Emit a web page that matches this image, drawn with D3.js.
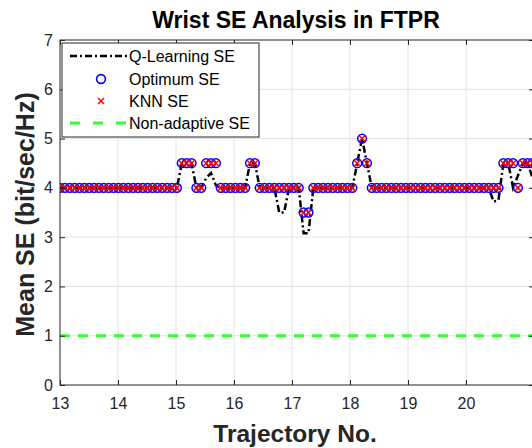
<!DOCTYPE html>
<html>
<head>
<meta charset="utf-8">
<script src="https://cdn.jsdelivr.net/npm/d3@7"></script>
<style>
  html, body { margin: 0; padding: 0; background: #fff; overflow: hidden; }
  svg { display: block; font-family: "Liberation Sans", Arial, sans-serif; }
</style>
</head>
<body>
<svg id="chart"></svg>
<script>
// trajectory axis: samples start at 13 with a fixed step
const trajStart = 13;
const trajStep = 0.084;

const xTicks = [13, 14, 15, 16, 17, 18, 19, 20];
const yTicks = [0, 1, 2, 3, 4, 5, 6, 7];

const qLearningSE = [
  4, 4, 4, 4, 4, 4, 4, 4, 4, 4, 4, 4, 4, 4, 4, 4, 4, 4, 4, 4, 4, 4, 4, 4, 4,
  4.5, 4.5, 4.5, 4, 4, 4.2, 4.3, 4.05,
  4, 4, 4, 4, 4, 4, 4.5, 4.5,
  4, 4, 4, 4, 3.5, 3.5, 4, 4, 4, 3.08, 3.08,
  4, 4, 4, 4, 4, 4, 4, 4, 4, 4.5, 5, 4.5,
  4, 4, 4, 4, 4, 4, 4, 4, 4, 4, 4, 4, 4, 4, 4, 4, 4, 4, 4, 4, 4, 4, 4, 4, 4,
  3.72, 3.75, 4.5, 4.5, 4.0, 4.25, 4.5, 4.5, 4.2
];

const optimumSE = [
  4, 4, 4, 4, 4, 4, 4, 4, 4, 4, 4, 4, 4, 4, 4, 4, 4, 4, 4, 4, 4, 4, 4, 4, 4,
  4.5, 4.5, 4.5, 4, 4, 4.5, 4.5, 4.5,
  4, 4, 4, 4, 4, 4, 4.5, 4.5,
  4, 4, 4, 4, 4, 4, 4, 4, 4, 3.5, 3.5,
  4, 4, 4, 4, 4, 4, 4, 4, 4, 4.5, 5, 4.5,
  4, 4, 4, 4, 4, 4, 4, 4, 4, 4, 4, 4, 4, 4, 4, 4, 4, 4, 4, 4, 4, 4, 4, 4, 4,
  4, 4, 4.5, 4.5, 4.5, 4, 4.5, 4.5, 4.5
];

const knnSE = [
  4, 4, 4, 4, 4, 4, 4, 4, 4, 4, 4, 4, 4, 4, 4, 4, 4, 4, 4, 4, 4, 4, 4, 4, 4,
  4.5, 4.5, 4.5, 4, 4, 4.5, 4.5, 4.5,
  4, 4, 4, 4, 4, 4, 4.5, 4.5,
  4, 4, 4, 4, 4, 4, 4, 4, 4, 3.5, 3.5,
  4, 4, 4, 4, 4, 4, 4, 4, 4, 4.5, 5, 4.5,
  4, 4, 4, 4, 4, 4, 4, 4, 4, 4, 4, 4, 4, 4, 4, 4, 4, 4, 4, 4, 4, 4, 4, 4, 4,
  4, 4, 4.5, 4.5, 4.5, 4, 4.5, 4.5, 4.5
];

const nonAdaptiveSE = 1;

const legendLabels = ["Q-Learning SE", "Optimum SE", "KNN SE", "Non-adaptive SE"];

function main() {
  const width = 532;
  const height = 448;
  const plot = { left: 60, right: 534, top: 40, bottom: 385 };

  const svg = d3.select("#chart")
    .attr("width", width)
    .attr("height", height)
    .attr("viewBox", [0, 0, width, height]);

  const x = d3.scaleLinear()
    .domain([13, 13 + (plot.right - plot.left) / 58])
    .range([plot.left, plot.right]);
  const y = d3.scaleLinear().domain([0, 7]).range([plot.bottom, plot.top]);

  const trajNo = qLearningSE.map((_, i) => trajStart + i * trajStep);

  renderGrid(svg, x, y, plot);
  renderSeries(svg, x, y, trajNo);
  renderAxes(svg, x, y, plot);
  renderLegend(svg);
  renderLabels(svg, plot);
}

function renderGrid(svg, x, y, plot) {
  const g = svg.append("g").attr("stroke", "#e3e3e3").attr("stroke-width", 1);
  g.selectAll("line.vx")
    .data(xTicks.slice(1))
    .join("line")
    .attr("x1", d => x(d)).attr("x2", d => x(d))
    .attr("y1", plot.top).attr("y2", plot.bottom);
  g.selectAll("line.hy")
    .data(yTicks.slice(1, -1))
    .join("line")
    .attr("x1", plot.left).attr("x2", plot.right)
    .attr("y1", d => y(d)).attr("y2", d => y(d));
}

function renderSeries(svg, x, y, trajNo) {
  svg.append("clipPath").attr("id", "plotclip")
    .append("rect")
    .attr("x", x.range()[0]).attr("y", y.range()[1])
    .attr("width", x.range()[1] - x.range()[0])
    .attr("height", y.range()[0] - y.range()[1]);

  const g = svg.append("g").attr("clip-path", "url(#plotclip)");

  const line = d3.line()
    .x((d, i) => x(trajNo[i]))
    .y(d => y(d));

  g.append("path")
    .datum(qLearningSE)
    .attr("fill", "none")
    .attr("stroke", "#000")
    .attr("stroke-width", 2.5)
    .attr("stroke-dasharray", "7,3,2,3")
    .attr("d", line);

  g.append("g")
    .selectAll("circle")
    .data(optimumSE)
    .join("circle")
    .attr("cx", (d, i) => x(trajNo[i]))
    .attr("cy", d => y(d))
    .attr("r", 4.4)
    .attr("fill", "none")
    .attr("stroke", "#0000ff")
    .attr("stroke-width", 1.5);

  g.append("g")
    .selectAll("path")
    .data(knnSE)
    .join("path")
    .attr("transform", (d, i) => `translate(${x(trajNo[i])},${y(d)})`)
    .attr("d", "M-3,-3L3,3M-3,3L3,-3")
    .attr("stroke", "#ff0000")
    .attr("stroke-width", 1.5);

  g.append("line")
    .attr("x1", x.range()[0]).attr("x2", x.range()[1])
    .attr("y1", y(nonAdaptiveSE)).attr("y2", y(nonAdaptiveSE))
    .attr("stroke", "#33ff33")
    .attr("stroke-width", 3)
    .attr("stroke-dasharray", "10,8");
}

function renderAxes(svg, x, y, plot) {
  const axisColor = "#262626";
  const g = svg.append("g");

  g.append("rect")
    .attr("x", plot.left).attr("y", plot.top)
    .attr("width", plot.right - plot.left)
    .attr("height", plot.bottom - plot.top)
    .attr("fill", "none")
    .attr("stroke", axisColor)
    .attr("stroke-width", 1);

  g.append("g")
    .attr("transform", `translate(0,${plot.bottom})`)
    .call(d3.axisBottom(x).tickValues(xTicks).tickSize(-5).tickPadding(13).tickFormat(d3.format("d")));
  g.append("g")
    .attr("transform", `translate(${plot.left},0)`)
    .call(d3.axisLeft(y).tickValues(yTicks).tickSize(-5).tickPadding(7).tickFormat(d3.format("d")));

  // inward ticks on the top and right edges of the box
  g.append("g")
    .attr("transform", `translate(0,${plot.top})`)
    .call(d3.axisTop(x).tickValues(xTicks).tickSize(-5).tickFormat(""));
  g.append("g")
    .attr("transform", `translate(${plot.right},0)`)
    .call(d3.axisRight(y).tickValues(yTicks).tickSize(-5).tickFormat(""));

  g.selectAll(".domain").remove();
  g.selectAll(".tick line").attr("stroke", axisColor);
  g.selectAll(".tick text")
    .attr("fill", "#262626")
    .style("font-family", "'Liberation Sans', Arial, sans-serif")
    .style("font-size", "16px");
}

function renderLegend(svg) {
  const g = svg.append("g").attr("transform", "translate(62,43)");
  g.append("rect")
    .attr("width", 197).attr("height", 94)
    .attr("fill", "#fff")
    .attr("stroke", "#262626")
    .attr("stroke-width", 1);

  const rowY = [13, 36, 58, 80];
  const rows = g.selectAll("g.row")
    .data(legendLabels)
    .join("g")
    .attr("transform", (d, i) => `translate(0,${rowY[i]})`);

  rows.append("text")
    .attr("x", 67)
    .attr("y", 0)
    .attr("dy", "0.35em")
    .attr("fill", "#000")
    .style("font-size", "16px")
    .text(d => d);

  rows.filter((d, i) => i === 0).append("line")
    .attr("x1", 8).attr("x2", 65).attr("y1", 0).attr("y2", 0)
    .attr("stroke", "#000").attr("stroke-width", 2.5)
    .attr("stroke-dasharray", "7,3,2,3");

  rows.filter((d, i) => i === 1).append("circle")
    .attr("cx", 39).attr("cy", 0).attr("r", 4.4)
    .attr("fill", "none").attr("stroke", "#0000ff").attr("stroke-width", 1.6);

  rows.filter((d, i) => i === 2).append("path")
    .attr("d", "M36,-3L42,3M36,3L42,-3")
    .attr("stroke", "#ff0000").attr("stroke-width", 1.5);

  rows.filter((d, i) => i === 3).append("line")
    .attr("x1", 8).attr("x2", 65).attr("y1", 0).attr("y2", 0)
    .attr("stroke", "#33ff33").attr("stroke-width", 3)
    .attr("stroke-dasharray", "10,13");
}

function renderLabels(svg, plot) {
  const cx = (plot.left + plot.right) / 2;
  svg.append("text")
    .attr("x", cx - 1).attr("y", 28)
    .attr("text-anchor", "middle")
    .attr("font-weight", "bold")
    .attr("fill", "#000")
    .style("font-size", "23px")
    .text("Wrist SE Analysis in FTPR");

  svg.append("text")
    .attr("x", cx - 2).attr("y", 442)
    .attr("text-anchor", "middle")
    .attr("font-weight", "bold")
    .attr("fill", "#262626")
    .style("font-size", "24.5px")
    .text("Trajectory No.");

  svg.append("text")
    .attr("transform", `translate(34,${(plot.top + plot.bottom) / 2 + 2}) rotate(-90)`)
    .attr("text-anchor", "middle")
    .attr("font-weight", "bold")
    .attr("fill", "#262626")
    .style("font-size", "25px")
    .text("Mean SE (bit/sec/Hz)");
}

main();
</script>
</body>
</html>
